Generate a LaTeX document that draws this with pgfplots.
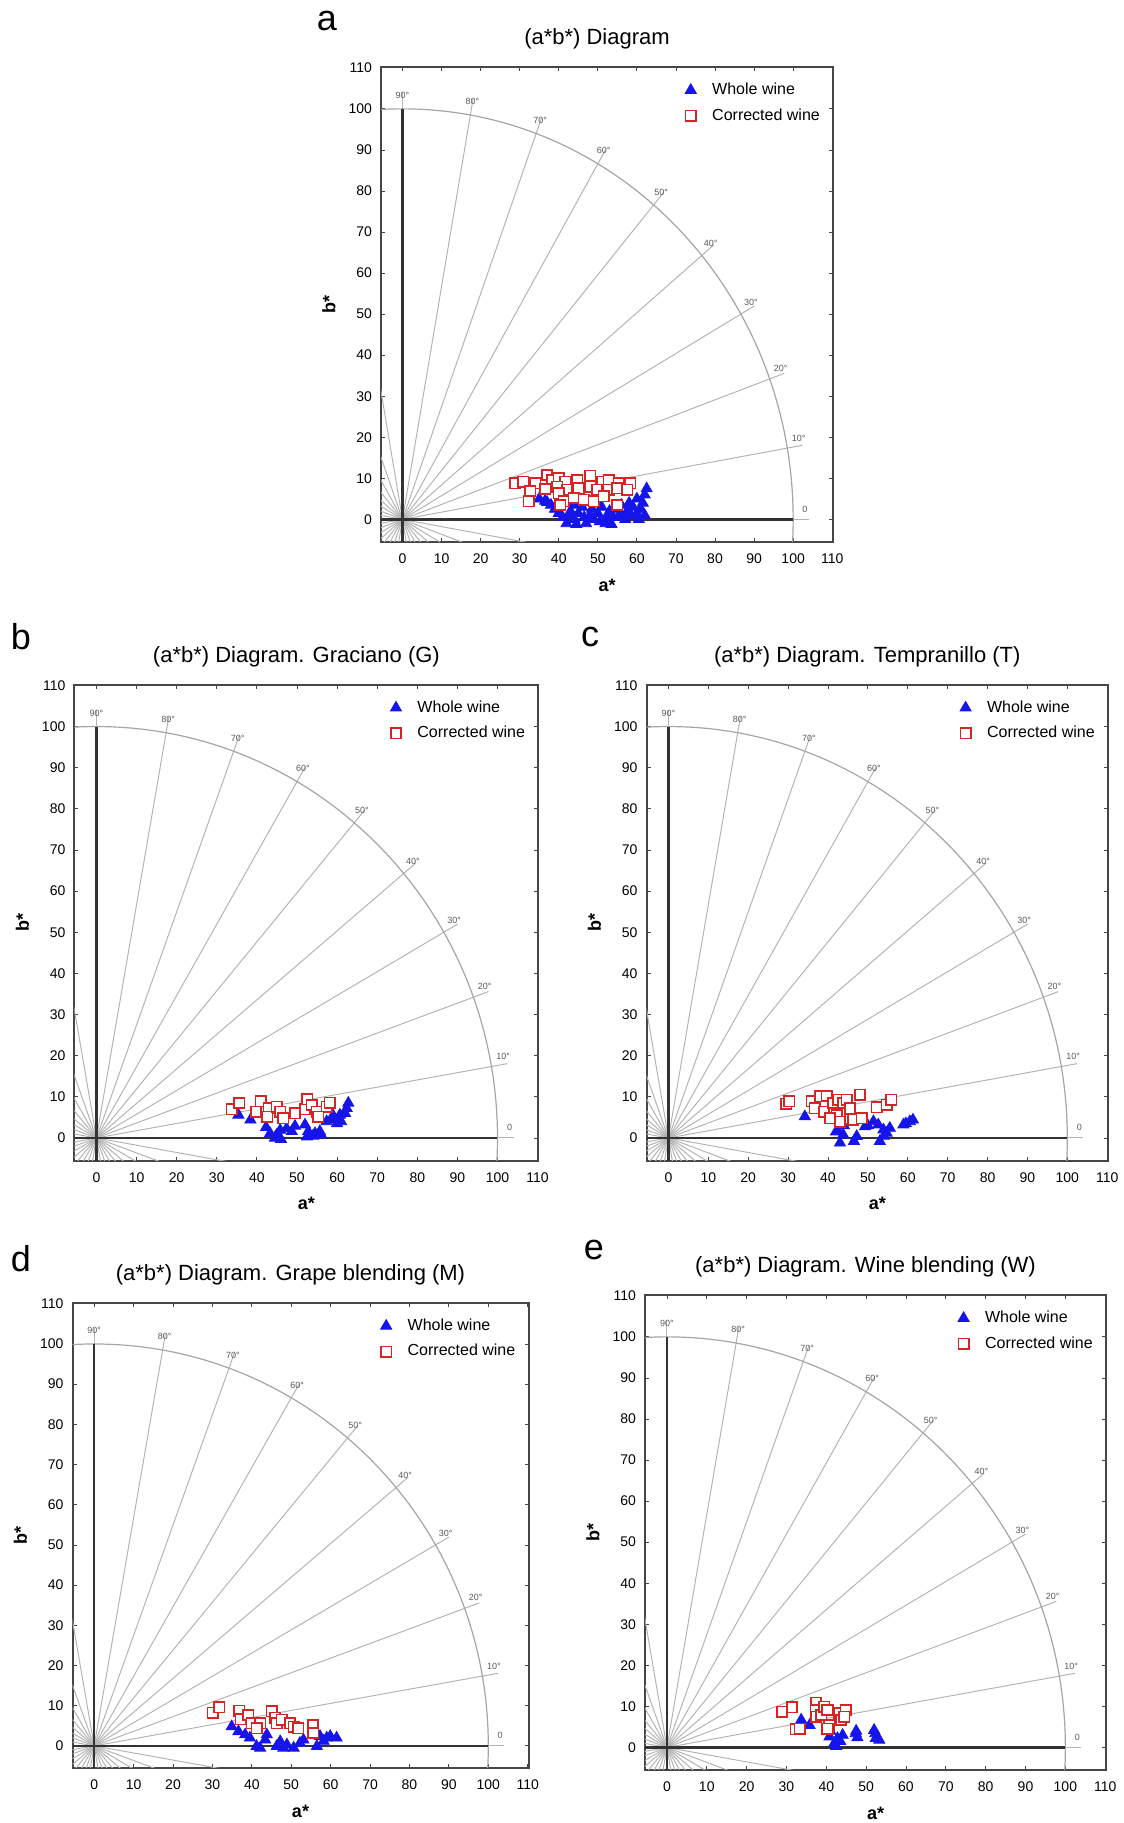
\documentclass[border=0pt]{standalone}
\usepackage{fontspec}
\setmainfont{Liberation Sans}
\usepackage{pgfplots}
\pgfplotsset{compat=1.18}

\definecolor{frame}{RGB}{70,70,70}
\definecolor{spokegray}{RGB}{180,180,180}
\definecolor{ringgray}{RGB}{165,165,165}
\definecolor{darkline}{RGB}{50,50,50}
\definecolor{wholeblue}{RGB}{20,20,235}
\definecolor{corrred}{RGB}{215,35,35}

\pgfplotsset{
  abdiagram/.style={
    scale only axis, anchor=south west,
    xmin=-5.5, xmax=110.2, ymin=-5.5, ymax=110.2,
    xtick={0,10,...,110}, ytick={0,10,...,110},
    tick align=inside, major tick length=2pt,
    axis line style={draw=frame, line width=1pt},
    every tick/.style={draw=frame, line width=0.4pt},
    /pgf/number format/assume math mode=true,
    ticklabel style={font=\fontsize{7}{8}\selectfont},
    xticklabel style={yshift=-2.5pt},
    yticklabel style={xshift=-1pt},
    xlabel={a*}, ylabel={b*},
    every axis x label/.style={at={(axis description cs:0.5,0)}, yshift=-21.5pt, anchor=center},
    every axis y label/.style={at={(axis description cs:0,0.5)}, xshift=-26pt, rotate=90, anchor=center},
    label style={font=\bfseries\fontsize{9}{10}\selectfont},
    every axis title/.style={at={(axis description cs:0.5,1)}, xshift=-5pt, yshift=14pt, anchor=center},
    title style={font=\fontsize{11}{13}\selectfont},
    legend style={at={(0.985,0.98)}, anchor=north east, draw=none, fill=none,
      font=\fontsize{8}{9}\selectfont, row sep=1.5pt, inner sep=1pt},
    legend cell align=left,
  },
  markkey/.style={legend image code/.code={%
      \draw[##1] plot coordinates {(0.12cm,0cm)};
      \path (0cm,0cm) (0.42cm,0cm);}},
  whole/.style={only marks, mark=triangle*, mark size=3.2pt,
    mark options={fill=wholeblue, draw=wholeblue}, markkey},
  corr/.style={only marks, mark=square*, mark size=2.6pt,
    mark options={fill=white, draw=corrred, line width=0.8pt}, markkey},
}

% radial grid of the a*b* plane
\newcommand{\wheel}{%
  \pgfplotsinvokeforeach{0,10,...,350}{%
    \draw[spokegray, line width=0.5pt] (axis cs:0,0) -- (axis cs:{104*cos(##1)},{104*sin(##1)});
  }
  \draw[ringgray, line width=0.6pt] (axis cs:0,0) circle[radius=100];
  \draw[darkline, line width=1.3pt] (axis cs:-6,0) -- (axis cs:100,0);
  \draw[darkline, line width=1.3pt] (axis cs:0,-6) -- (axis cs:0,100);
  \pgfplotsinvokeforeach{10,20,...,90}{%
    \node[font=\fontsize{4.5}{5}\selectfont, text=black!65] at (axis cs:{103*cos(##1)},{101*sin(##1)+2.3}) {##1°};
  }
  \node[font=\fontsize{4.5}{5}\selectfont, text=black!65] at (axis cs:103,2.5) {0};
}

\begin{document}
\begin{tikzpicture}
\useasboundingbox (0,0) rectangle (561.5pt,911.5pt);

\node[font=\fontsize{18}{20}\selectfont] at (163.5pt,901pt) {a};
\node[font=\fontsize{18}{20}\selectfont] at (10.5pt,593pt) {b};
\node[font=\fontsize{18}{20}\selectfont] at (295pt,593pt) {c};
\node[font=\fontsize{18}{20}\selectfont] at (10.5pt,282pt) {d};
\node[font=\fontsize{18}{20}\selectfont] at (297pt,286.5pt) {e};

% (a) all wines
\begin{axis}[abdiagram, at={(190.5pt,640.5pt)}, width=226pt, height=237.5pt,
  title={(a*b*) Diagram}]
\wheel
\addplot[whole] coordinates {
 (35,5.0) (36.5,4.5) (38,3.5) (39,2.5) (40,1.5) (41,0.5) (42,-1) (42.5,1)
 (43,2) (44,0) (44.5,-1.2) (45,1.5) (46,3) (46.5,0.5) (47,-1) (48,1)
 (48.5,2.5) (49,0) (50,1.5) (50.5,-0.5) (51,3) (52,-1) (52.5,1) (53,2)
 (53.5,-1.2) (54,0.5) (55,2.5) (55.5,1) (56,3.5) (57,0) (57.5,2) (58,4)
 (58.5,1) (59,3) (60,5) (60,1.5) (61,2.5) (61.5,4) (62,6) (62.5,7.5)
 (62,1) (60.5,0) (37,4.2) (44,3.5) (50,3.8)
};
\addplot[corr] coordinates {
 (28.9,8.8) (30.9,9.2) (34.0,8.8) (37.0,10.8) (38.3,9.6) (40.0,10.0)
 (41.7,9.2) (44.7,9.6) (48.1,10.6) (51.1,9.2) (52.8,9.6) (55.3,8.8)
 (58.3,8.8) (32.7,6.8) (36.6,7.4) (39.6,8.0) (42.1,7.2) (45.1,7.6)
 (48.1,8.0) (49.8,7.2) (52.8,7.2) (55.0,7.6) (57.5,7.2) (32.3,4.4)
 (40.0,6.4) (41.3,4.4) (43.8,5.2) (46.4,4.8) (48.9,4.4) (51.5,5.6)
 (55.0,3.5) (40.4,3.5)
};
\legend{Whole wine, Corrected wine}
\end{axis}

% (b) Graciano
\begin{axis}[abdiagram, at={(37.2pt,331.2pt)}, width=232pt, height=238pt,
  title={(a*b*) Diagram. Graciano (G)}]
\wheel
\addplot[whole] coordinates {
 (35.4,5.6) (38.4,4.4) (42.3,2.6) (43.3,1.1) (44.9,0.7) (45.8,1.9)
 (47.4,2.3) (48.7,1.6) (49.5,2.9) (52.0,3.2) (52.8,1.6) (54.5,1.1)
 (55.7,1.6) (57.4,4.0) (58.6,4.4) (60.7,5.6) (62.4,7.2) (62.8,8.5)
 (62.0,6.0) (44.5,0) (46,-0.3) (52.5,0.3) (54,0.5) (56,0.8) (61,4)
 (60,3.5) (59,5.5)
};
\addplot[corr] coordinates {
 (33.7,7.0) (35.6,8.5) (39.8,6.4) (41.0,8.9) (42.9,7.2) (42.6,5.2)
 (44.9,7.6) (45.8,6.4) (46.6,4.8) (49.5,6.0) (52.0,7.0) (52.6,9.4)
 (53.7,8.0) (54.9,6.4) (57.4,7.6) (58.2,8.6) (55.3,5.2)
};
\legend{Whole wine, Corrected wine}
\end{axis}

% (c) Tempranillo
\begin{axis}[abdiagram, at={(323.25pt,331.2pt)}, width=230.75pt, height=238pt,
  title={(a*b*) Diagram. Tempranillo (T)}]
\wheel
\addplot[whole] coordinates {
 (34.2,5.2) (42.6,1.6) (43.8,0.8) (47.2,0.4) (49.3,2.8) (51.4,4.0)
 (52.6,3.2) (53.9,2.0) (54.7,1.2) (55.5,2.4) (58.9,3.2) (60.5,4.0)
 (61.3,4.4) (43,-1.2) (46.5,-0.8) (53,-0.8) (54,0.5) (50,3) (42,1.5)
 (44,3) (59.5,3.5)
};
\addplot[corr] coordinates {
 (29.5,8.3) (30.3,8.9) (35.9,8.9) (38.0,10.1) (39.7,10.2) (36.7,7.2)
 (39.0,6.4) (41.3,8.5) (42.6,9.3) (43.8,8.5) (44.7,9.3) (45.5,7.2)
 (42.2,5.6) (43.0,4.0) (45.5,4.6) (46.3,4.4) (48.4,4.8) (48.0,10.5)
 (52.2,7.5) (54.7,8.1) (55.9,9.3) (40.5,4.8)
};
\legend{Whole wine, Corrected wine}
\end{axis}

% (d) grape blending
\begin{axis}[abdiagram, at={(36.25pt,27.5pt)}, width=228pt, height=232.5pt,
  title={(a*b*) Diagram. Grape blending (M)}]
\wheel
\addplot[whole] coordinates {
 (34.9,4.8) (36.6,3.6) (38.3,2.8) (39.5,2.0) (41.2,-0.1) (42.1,-0.5)
 (43.4,1.5) (43.8,2.8) (46.3,-0.1) (47.2,1.1) (48.0,-0.5) (48.9,0.3)
 (50.6,-0.5) (52.2,0.7) (53.1,1.5) (56.5,-0.1) (57.3,2.4) (59.0,2.0)
 (59.9,2.4) (61.5,2.0) (58.2,1.2)
};
\addplot[corr] coordinates {
 (30.1,8.3) (31.7,9.6) (36.8,8.8) (37.2,6.6) (39.1,7.7) (40.0,5.6)
 (42.1,5.6) (41.2,4.4) (45.0,8.6) (45.9,7.0) (46.3,5.6) (47.6,6.5)
 (49.7,5.6) (50.6,4.8) (51.8,4.4) (55.5,5.2) (55.6,3.2)
};
\legend{Whole wine, Corrected wine}
\end{axis}

% (e) wine blending
\begin{axis}[abdiagram, at={(322.5pt,26.5pt)}, width=230.5pt, height=237.5pt,
  title={(a*b*) Diagram. Wine blending (W)}]
\wheel
\addplot[whole] coordinates {
 (33.7,6.7) (35.8,5.4) (40.8,2.6) (42.0,1.0) (42.8,2.2) (44.1,3.0)
 (47.4,3.4) (47.8,2.4) (52.3,3.4) (52.4,2.2) (53.3,1.8) (42.5,0.3)
 (41,4) (47.5,4) (52,4.2) (43.5,1.5)
};
\addplot[corr] coordinates {
 (28.9,8.7) (31.4,9.8) (32.3,4.4) (33.3,4.6) (37.4,10.9) (37.3,9.1)
 (37.4,7.5) (38.7,7.9) (39.5,9.9) (40.3,9.1) (40.8,5.4) (40.3,4.6)
 (43.3,8.3) (43.7,6.7) (44.9,9.1) (44.5,7.5)
};
\legend{Whole wine, Corrected wine}
\end{axis}
\end{tikzpicture}
\end{document}
